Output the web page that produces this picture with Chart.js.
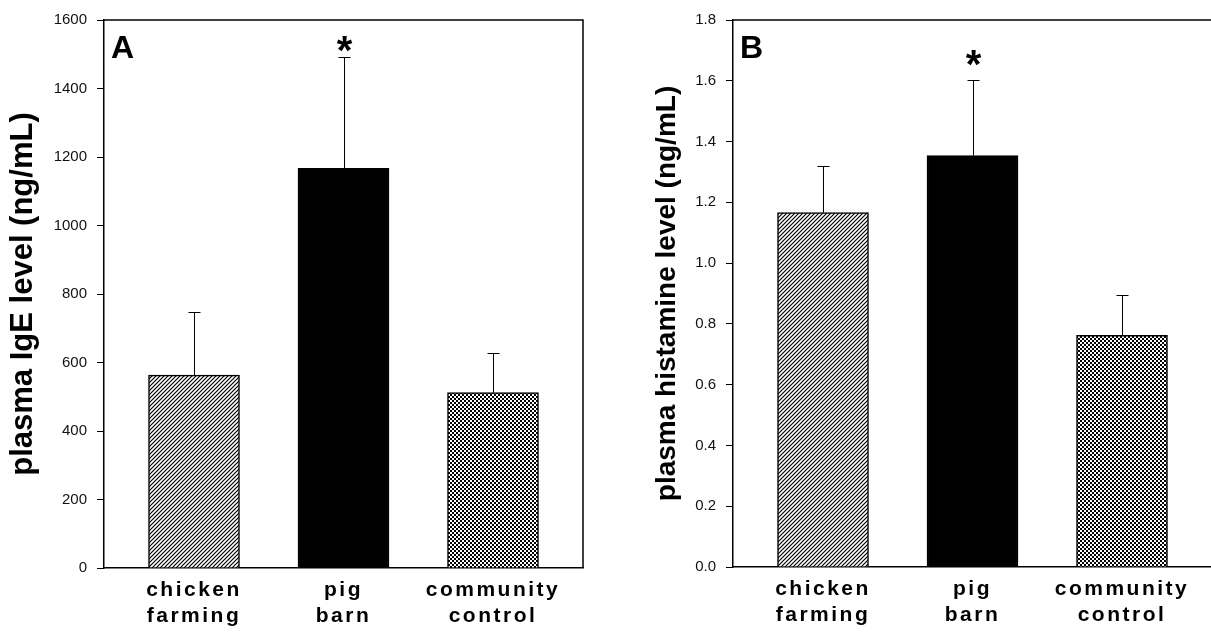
<!DOCTYPE html>
<html>
<head>
<meta charset="utf-8">
<script src="https://cdn.jsdelivr.net/npm/chart.js@4.4.1/dist/chart.umd.min.js"></script>
<style>
  html, body { margin: 0; padding: 0; background: #fff; overflow: hidden; }
  #wrap { position: relative; width: 1211px; height: 633px; overflow: hidden; }
  #chartA { position: absolute; left: 0; top: 0; }
  #chartB { position: absolute; left: 620px; top: 0; }
</style>
</head>
<body>
<div id="wrap">
  <canvas id="chartA" width="600" height="633"></canvas>
  <canvas id="chartB" width="620" height="633"></canvas>
</div>
<script>
// groups on the x axis (two lines each)
const groups = [['chicken', 'farming'], ['pig', 'barn'], ['community', 'control']];
const marks = ['', '*', ''];

// panel A: plasma IgE (ng/mL)
const igeMean = [563, 1167, 512];
const igeErr = [185, 326, 117];
const igeTicks = [0, 200, 400, 600, 800, 1000, 1200, 1400, 1600];

// panel B: plasma histamine (ng/mL)
const histMean = [1.166, 1.354, 0.762];
const histErr = [0.153, 0.249, 0.132];
const histTicks = [0, 0.2, 0.4, 0.6, 0.8, 1.0, 1.2, 1.4, 1.6, 1.8];

const FONT = "'Liberation Sans', Arial, sans-serif";

function hatchPattern() {
  const c = document.createElement('canvas');
  c.width = 4; c.height = 4;
  const g = c.getContext('2d');
  g.fillStyle = '#fff';
  g.fillRect(0, 0, 4, 4);
  g.strokeStyle = '#000';
  g.lineWidth = 1.2;
  g.beginPath();
  g.moveTo(-1, 5); g.lineTo(5, -1);
  g.moveTo(-1, 1); g.lineTo(1, -1);
  g.moveTo(3, 5); g.lineTo(5, 3);
  g.stroke();
  return g.createPattern(c, 'repeat');
}

function checkPattern() {
  const c = document.createElement('canvas');
  c.width = 4; c.height = 4;
  const g = c.getContext('2d');
  g.fillStyle = '#fff';
  g.fillRect(0, 0, 4, 4);
  g.fillStyle = '#000';
  g.fillRect(0, 0, 2, 2);
  g.fillRect(2, 2, 2, 2);
  return g.createPattern(c, 'repeat');
}

const fills = [hatchPattern(), '#000', checkPattern()];

// frame, error bars, asterisks and the panel letter
const panelDecor = {
  id: 'panelDecor',
  afterDatasetsDraw(chart, args, o) {
    const { ctx, chartArea: a } = chart;
    const x = chart.scales.x, y = chart.scales.y;
    ctx.save();
    ctx.strokeStyle = '#000';
    ctx.lineWidth = 1.5;
    ctx.beginPath();
    ctx.moveTo(a.left, a.top);
    ctx.lineTo(a.right, a.top);
    ctx.lineTo(a.right, a.bottom);
    ctx.stroke();

    ctx.lineWidth = 1;
    ctx.fillStyle = '#000';
    ctx.font = 'bold 40px ' + FONT;
    ctx.textAlign = 'center';
    ctx.textBaseline = 'alphabetic';
    o.mean.forEach((m, i) => {
      const px = Math.round(x.getPixelForValue(i)) + 0.5;
      const y0 = y.getPixelForValue(m);
      const y1 = Math.round(y.getPixelForValue(m + o.err[i])) + 0.5;
      ctx.beginPath();
      ctx.moveTo(px, y0);
      ctx.lineTo(px, y1);
      ctx.moveTo(px - 6, y1);
      ctx.lineTo(px + 6, y1);
      ctx.stroke();
      if (marks[i]) {
        ctx.fillText(marks[i], px, y1 - o.starGap + 23);
      }
    });

    ctx.font = 'bold 32px ' + FONT;
    ctx.textAlign = 'left';
    ctx.fillText(o.letter, a.left + 7, a.top + 38);
    ctx.restore();
    // x tick labels (ticks.z = 1) are drawn right after this, spaced out
    ctx.letterSpacing = '2.5px';
  },
  afterDraw(chart) {
    chart.ctx.letterSpacing = '0px';
  }
};

function panel(id, o) {
  return new Chart(document.getElementById(id), {
    type: 'bar',
    data: {
      datasets: [{
        data: o.mean.map((v, i) => ({ x: i, y: v })),
        backgroundColor: fills,
        borderColor: '#000',
        borderWidth: 1.5,
        barThickness: 91
      }]
    },
    options: {
      responsive: false,
      animation: false,
      layout: { padding: { top: 20, right: o.padRight, left: 0, bottom: 0 } },
      plugins: {
        legend: { display: false },
        tooltip: { enabled: false },
        panelDecor: { mean: o.mean, err: o.err, letter: o.letter, starGap: o.starGap }
      },
      scales: {
        x: {
          type: 'linear',
          offset: false,
          min: -0.602,
          max: 2.602,
          afterBuildTicks: s => { s.ticks = groups.map((g, i) => ({ value: i })); },
          afterFit: s => { s.height = o.xHeight; },
          grid: { display: false, drawTicks: false, offset: false },
          border: { color: '#000', width: 1.5 },
          ticks: {
            z: 1,
            padding: 10,
            color: '#000',
            autoSkip: false,
            maxRotation: 0,
            font: { family: FONT, size: 21, weight: 'bold', lineHeight: 1.2 },
            callback: v => groups[v]
          }
        },
        y: {
          min: o.ticks[0],
          max: o.ticks[o.ticks.length - 1],
          afterBuildTicks: s => { s.ticks = o.ticks.map(v => ({ value: v })); },
          afterFit: s => { s.width = o.yWidth; },
          grid: { display: true, drawOnChartArea: false, drawTicks: true, tickLength: 7, color: '#000', lineWidth: 1 },
          border: { color: '#000', width: 1.5 },
          ticks: {
            padding: 10,
            color: '#111',
            font: { family: FONT, size: 15 },
            callback: v => o.fmt(v)
          },
          title: {
            display: true,
            text: o.title,
            color: '#000',
            font: { family: FONT, size: o.titleSize, weight: 'bold' },
            padding: { top: o.titlePad, bottom: 0 }
          }
        }
      }
    },
    plugins: [panelDecor]
  });
}

panel('chartA', {
  mean: igeMean, err: igeErr, ticks: igeTicks, letter: 'A',
  title: 'plasma IgE level (ng/mL)', titleSize: 31, titlePad: 5,
  fmt: v => String(v), yWidth: 104, xHeight: 65, padRight: 17, starGap: 17
});

panel('chartB', {
  mean: histMean, err: histErr, ticks: histTicks, letter: 'B',
  title: 'plasma histamine level (ng/mL)', titleSize: 28, titlePad: 30,
  fmt: v => v.toFixed(1), yWidth: 113, xHeight: 66, padRight: 28, starGap: 25.5
});
</script>
</body>
</html>
